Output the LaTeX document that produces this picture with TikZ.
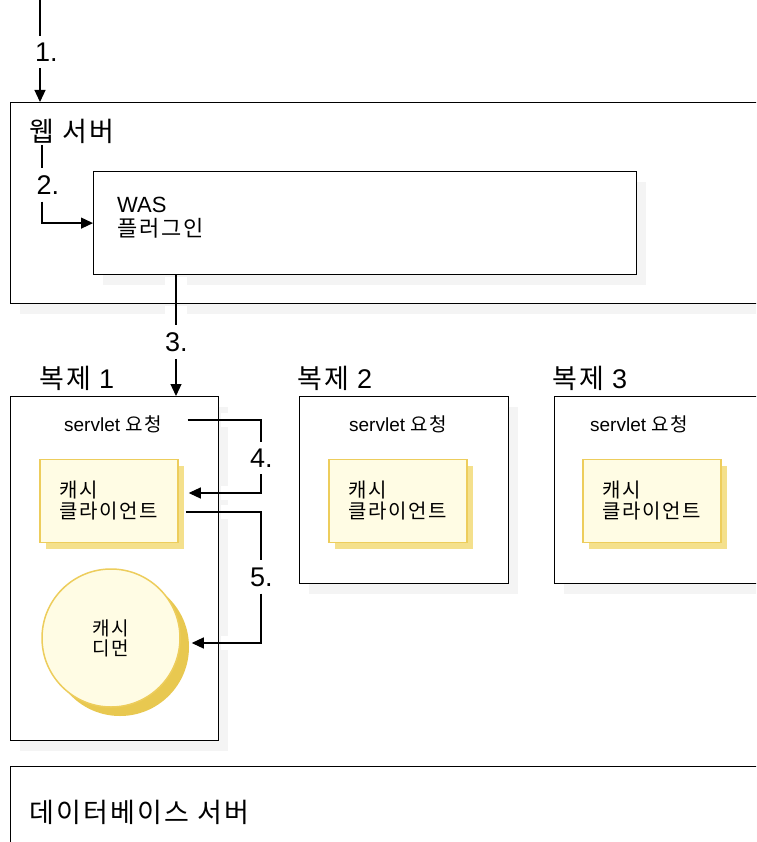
\documentclass[tikz,border=0pt]{standalone}
\usepackage{fontspec}
\setmainfont{Liberation Sans}
\newfontfamily\kr[LetterSpace=8]{Noto Sans CJK KR}
\usetikzlibrary{arrows.meta,calc,shadows}
\definecolor{shade}{HTML}{F4F4F4}
\definecolor{cachefill}{HTML}{FFFCE4}
\definecolor{cacheline}{HTML}{EDCD5C}
\definecolor{cachestack}{HTML}{F4E08C}
\definecolor{daemonshade}{HTML}{E8C850}
\tikzset{
  wire/.style={line width=1.2pt},
  arr/.style={wire,-{Triangle[length=12pt,width=11pt]}},
  gap/.style={white,line width=#1},
  gap/.default=14pt,
  frame/.style={draw,line width=1.2pt,fill=white,anchor=north west,inner sep=0pt,
    general shadow={fill=shade,shadow xshift=9pt,shadow yshift=-10pt}},
  big/.style={font=\fontsize{27}{28}\selectfont,inner sep=1.5pt},
  tag/.style={big,inner ysep=7pt},
  mid/.style={font=\fontsize{19}{20}\selectfont,inner sep=1.5pt},
  client/.style={draw=cacheline,line width=1.5pt,fill=cachefill,minimum width=138pt,
    minimum height=83pt,align=left,font=\kr\fontsize{20}{21}\selectfont,
    general shadow={fill=cachestack,shadow xshift=6pt,shadow yshift=-6pt}},
  daemon/.style={circle,draw=cacheline,line width=1.5pt,fill=cachefill,minimum size=138pt,
    align=center,font=\kr\fontsize{19}{20}\selectfont,
    general shadow={fill=daemonshade,shadow xshift=9pt,shadow yshift=-9pt}}
}
\begin{document}
\begin{tikzpicture}[x=1pt,y=-1pt]
  \useasboundingbox (0,0) rectangle (756,842);
  \clip (0,0) rectangle (756,842);
  % servers
  \node[frame,minimum width=770pt,minimum height=201pt] (web) at (10,102) {};
  \node[big,anchor=west] (webname) at (28,131) {\kr 웹 서버};
  \node[frame,minimum width=543pt,minimum height=103pt] (was) at (93,171) {};
  \node[anchor=north west,align=left,inner sep=0pt,font=\fontsize{22}{24}\selectfont]
    (wasname) at (117,197) {WAS\\\kr 플러그인};
  \node[frame,minimum width=770pt,minimum height=100pt] (db) at (10,766) {};
  \node[big,anchor=west] (dbname) at (28,812) {\kr 데이터베이스 서버};
  % replicas
  \foreach \i/\x/\w/\h/\lx/\r/\c in {1/10/208/344/38/113/109, 2/299/209/187/296/398/398, 3/554/220/187/551/639/652}
  {
    \node[frame,minimum width=\w,minimum height=\h] (rep\i) at (\x,396) {};
    \node[big,anchor=west] (repname\i) at (\lx,378) {{\kr 복제} \i};
    \node[mid] (req\i) at (\r,424) {servlet {\kr 요청}};
    \node[client] (cli\i) at (\c,501) {캐시\\클라이언트};
  }
  \node[daemon] (dmn) at (111,638) {캐시\\디먼};
  % step labels
  \node[tag,anchor=west] (l1) at (33.5,52) {1.};
  \node[tag,anchor=west] (l2) at (35,185) {2.};
  \node[tag,anchor=west] (l3) at (163.5,342) {3.};
  \node[tag,anchor=west] (l4) at (248.5,458) {4.};
  \node[tag,anchor=west] (l5) at (248.5,577) {5.};
  \coordinate (in1) at (40,0);
  \coordinate (c2) at (42,0);
  \coordinate (c3) at (176,0);
  \coordinate (bus) at (261,0);
  \coordinate (s4) at ($(req1.east)+(24,-4)$);
  \coordinate (e4) at ($(cli1.east)+(10,-8)$);
  \coordinate (s5) at ($(cli1.east)+(7,11)$);
  \coordinate (e5) at ($(dmn.east)+(11,5)$);
  % breaks in the shadows
  \draw[gap=22pt] ($(c3 |- was.south)+(0,1.5)$) -- +(0,10);
  \draw[gap=22pt] ($(c3 |- web.south)+(0,1.5)$) -- +(0,10);
  \foreach \p in {s4,e4,s5,e5}
    \draw[gap] ($(rep1.east |- \p)+(1.5,0)$) -- +(10,0);
  % flow
  \draw[wire] (in1) -- (in1 |- l1.north);
  \draw[arr] (in1 |- l1.south) -- (in1 |- web.north);
  \draw[wire] (c2 |- webname.south) -- (c2 |- l2.north);
  \draw[arr] (c2 |- l2.south) |- (was.west);
  \draw[wire] (c3 |- was.south) -- (c3 |- l3.north);
  \draw[arr] (c3 |- l3.south) -- (c3 |- rep1.north);
  \draw[wire] (s4) -| (bus |- l4.north);
  \draw[arr] (bus |- l4.south) |- (e4);
  \draw[wire] (s5) -| (bus |- l5.north);
  \draw[arr] (bus |- l5.south) |- (e5);
\end{tikzpicture}
\end{document}
